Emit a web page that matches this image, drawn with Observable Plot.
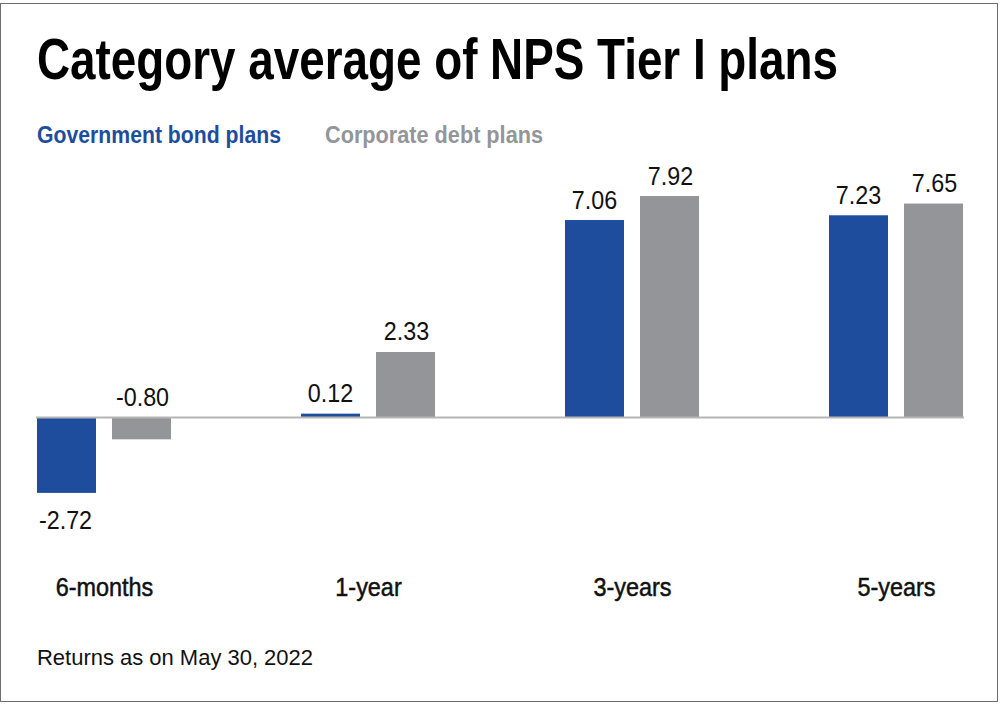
<!DOCTYPE html>
<html>
<head>
<meta charset="utf-8">
<script src="https://cdn.jsdelivr.net/npm/d3@7"></script>
<script src="https://cdn.jsdelivr.net/npm/@observablehq/plot@0.6"></script>
<style>
  html, body { margin: 0; padding: 0; background: #fff; }
  body { width: 1000px; height: 704px; position: relative; overflow: hidden;
         font-family: "Liberation Sans", Arial, sans-serif; }
  #frame { position: absolute; left: 0; top: 3px; width: 998px; height: 699px; border: 1.5px solid #6d6d6d; box-sizing: border-box; }
  .t { position: absolute; white-space: nowrap; line-height: 1; transform-origin: 0 50%; }
  #title { left: 37px; top: 31px; font-size: 57px; font-weight: bold; color: #000; }
  .leg { top: 123.5px; font-size: 23.5px; font-weight: bold; }
  #footer { left: 37px; top: 647.4px; font-size: 22px; color: #111; }
  #chart { position: absolute; left: 0; top: 150px; }
</style>
</head>
<body>
<div id="frame"></div>
<div id="title" class="t">Category average of NPS Tier I plans</div>
<div id="leg0" class="t leg"></div>
<div id="leg1" class="t leg"></div>
<div id="chart"></div>
<div id="footer" class="t">Returns as on May 30, 2022</div>
<script>
const periods = ["6-months", "1-year", "3-years", "5-years"];
const seriesNames = ["Government bond plans", "Corporate debt plans"];
const govBond = [-2.72, 0.12, 7.06, 7.23];
const corpDebt = [-0.80, 2.33, 7.92, 7.65];
const colors = ["#1e4d9e", "#939598"];

// horizontally fit an HTML text element to a target width
function fitWidth(el, target) {
  const w = el.getBoundingClientRect().width;
  el.style.transform = `scaleX(${target / w})`;
}

const leg0 = document.getElementById("leg0");
const leg1 = document.getElementById("leg1");
leg0.textContent = seriesNames[0]; leg0.style.color = colors[0]; leg0.style.left = "37px";
leg1.textContent = seriesNames[1]; leg1.style.color = colors[1]; leg1.style.left = "325px";

const gov = periods.map((p, i) => ({period: p, value: govBond[i]}));
const corp = periods.map((p, i) => ({period: p, value: corpDebt[i]}));

const bandW = 134;
const barW = 59;
const half = bandW - barW;
const shift = (bandW - barW) / 2;

function labelY(d) { return d.value < -1 ? d.value : Math.max(d.value, 0); }
const fmt = v => d3.format(".2f")(v).replace("\u2212", "-");
const textOpts = {fontSize: 26.5, fill: "#111"};
const above = (arr) => arr.filter(d => !(d.value < -1));
const below = (arr) => arr.filter(d => d.value < -1);

const H = 470;
const plot = Plot.plot({
  width: 1000,
  height: H,
  marginLeft: 36,
  marginRight: 36,
  marginTop: 15.9,
  marginBottom: H - 364.65,
  style: {fontFamily: "Liberation Sans, Arial, sans-serif", background: "transparent"},
  x: {domain: periods, paddingInner: 0.493, paddingOuter: 0, label: null, tickSize: 0, tickPadding: 62},
  y: {domain: [-3.5, 9], axis: null},
  marks: [
    Plot.barY(gov, {x: "period", y: "value", fill: colors[0], insetRight: half}),
    Plot.barY(corp, {x: "period", y: "value", fill: colors[1], insetLeft: half}),
    Plot.ruleY([0], {stroke: "#b5b5b5", strokeWidth: 2}),
    Plot.text(above(gov), {x: "period", y: labelY, text: d => fmt(d.value), dx: -shift - 0.5, dy: -12, lineAnchor: "bottom", ...textOpts}),
    Plot.text(above(corp), {x: "period", y: labelY, text: d => fmt(d.value), dx: shift + 0.5, dy: -12, lineAnchor: "bottom", ...textOpts}),
    Plot.text(below(gov), {x: "period", y: labelY, text: d => fmt(d.value), dx: -shift - 1.5, dy: 17, lineAnchor: "top", ...textOpts}),
    Plot.text(below(corp), {x: "period", y: labelY, text: d => fmt(d.value), dx: shift + 0.5, dy: 17, lineAnchor: "top", ...textOpts})
  ]
});
document.getElementById("chart").appendChild(plot);

// axis labels: condensed medium look
const axisG = plot.querySelector("g[aria-label='x-axis tick label']");
if (axisG) {
  axisG.setAttribute("font-size", 26);
  axisG.setAttribute("fill", "#111");
  axisG.setAttribute("stroke", "#111");
  axisG.setAttribute("stroke-width", 0.5);
  axisG.querySelectorAll("text").forEach(t => {
    const L = t.getComputedTextLength();
    t.setAttribute("textLength", L * 0.9);
    t.setAttribute("lengthAdjust", "spacingAndGlyphs");
  });
}
// value labels: condensed
plot.querySelectorAll("g[aria-label='text'] text").forEach(t => {
  const L = t.getComputedTextLength();
  t.setAttribute("textLength", L * 0.88);
  t.setAttribute("lengthAdjust", "spacingAndGlyphs");
});

fitWidth(document.getElementById("title"), 801);
fitWidth(leg0, 244);
fitWidth(leg1, 218);
fitWidth(document.getElementById("footer"), 276);
</script>
</body>
</html>
